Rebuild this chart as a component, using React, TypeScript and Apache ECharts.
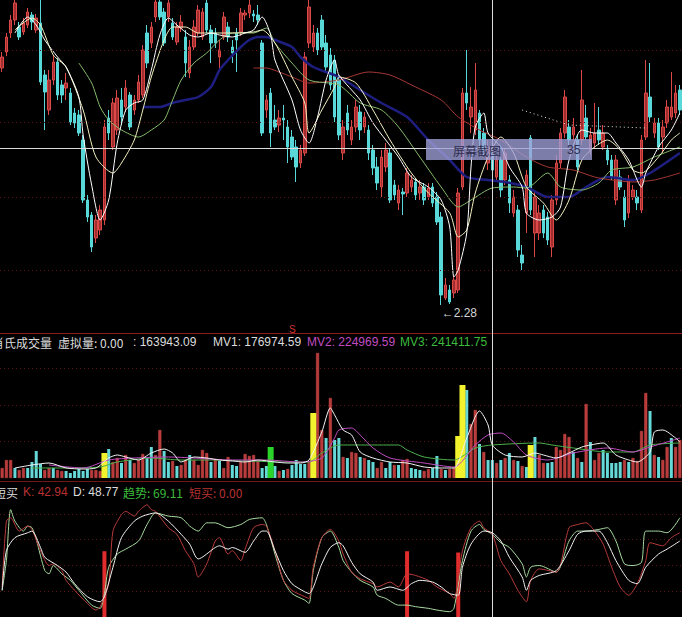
import React, { useEffect, useRef } from 'react';
import * as echarts from 'echarts';

// [open, close, lowest, highest]
const candles: number[][] = [
  [3.228,3.272,3.212,3.292],[3.292,3.352,3.276,3.368],[3.368,3.42,3.348,3.44],[3.42,3.488,3.4,3.5],[3.392,3.352,3.34,3.412],
  [3.372,3.408,3.36,3.428],[3.4,3.452,3.388,3.468],[3.44,3.412,3.38,3.452],[3.38,3.428,3.368,3.444],[3.408,3.172,3.16,3.5],
  [3.2,3.132,2.98,3.22],[3.06,3.18,3.04,3.22],[3.18,3.252,3.16,3.28],[3.252,3.12,3.1,3.268],[3.16,3.12,3.088,3.18],
  [3.148,3.168,3.1,3.208],[3.128,3.012,3.0,3.148],[3.048,3.008,2.988,3.068],[3.04,2.968,2.956,3.06],[2.94,2.7,2.688,2.96],
  [2.7,2.632,2.612,2.72],[2.64,2.512,2.492,2.652],[2.548,2.62,2.528,2.64],[2.58,2.66,2.56,2.68],[2.62,2.992,2.6,3.02],
  [3.028,2.968,2.94,3.06],[2.912,3.088,2.9,3.108],[2.98,3.108,2.96,3.14],[3.1,3.032,3.0,3.148],[3.072,3.148,3.052,3.18],
  [3.12,2.992,2.98,3.132],[3.06,3.1,3.04,3.12],[3.1,3.172,3.088,3.2],[3.12,3.3,3.108,3.32],[3.368,3.248,3.228,3.4],
  [3.328,3.392,3.308,3.412],[3.432,3.492,3.412,3.5],[3.492,3.432,3.42,3.5],[3.452,3.328,3.316,3.468],[3.432,3.488,3.412,3.5],
  [3.408,3.352,3.34,3.428],[3.332,3.392,3.32,3.412],[3.388,3.412,3.372,3.44],[3.352,3.248,3.192,3.38],[3.208,3.312,3.188,3.34],
  [3.312,3.392,3.3,3.42],[3.368,3.46,3.356,3.48],[3.352,3.452,3.34,3.468],[3.488,3.38,3.368,3.5],[3.38,3.328,3.248,3.4],
  [3.368,3.328,3.308,3.388],[3.272,3.3,3.212,3.34],[3.352,3.432,3.34,3.452],[3.392,3.352,3.332,3.412],[3.312,3.288,3.248,3.34],
  [3.368,3.34,3.212,3.388],[3.372,3.448,3.356,3.468],[3.44,3.448,3.42,3.46],[3.448,3.48,3.428,3.5],[3.444,3.436,3.412,3.46],
  [3.44,3.42,3.4,3.48],[3.328,2.968,2.956,3.34],[3.06,3.1,3.028,3.12],[3.128,2.968,2.912,3.148],[3.02,2.992,2.98,3.08],
  [3.0,3.028,2.972,3.06],[3.028,3.02,2.94,3.08],[2.992,2.912,2.848,3.02],[2.952,2.872,2.86,2.98],[2.912,2.832,2.772,2.94],
  [2.848,2.9,2.828,2.92],[2.888,3.272,2.876,3.292],[3.328,3.472,3.308,3.5],[3.312,3.368,3.292,3.4],[3.368,3.3,3.28,3.388],
  [3.42,3.312,3.3,3.44],[3.328,3.232,3.212,3.36],[3.28,3.16,3.14,3.308],[3.26,3.032,3.012,3.28],[3.18,2.96,2.94,3.2],
  [2.888,2.992,2.86,3.02],[3.048,2.98,2.96,3.08],[2.94,2.992,2.92,3.02],[2.992,3.072,2.972,3.1],[3.052,2.98,2.94,3.08],
  [2.992,3.032,2.968,3.052],[2.98,2.888,2.86,3.0],[2.9,2.828,2.8,2.92],[2.832,2.768,2.74,2.872],[2.752,2.872,2.712,2.9],
  [2.832,2.9,2.812,2.928],[2.888,2.7,2.688,2.908],[2.76,2.72,2.7,2.78],[2.688,2.74,2.66,2.76],[2.732,2.724,2.64,2.748],
  [2.728,2.808,2.712,2.828],[2.752,2.78,2.732,2.8],[2.772,2.72,2.7,2.788],[2.728,2.752,2.7,2.78],[2.752,2.7,2.68,2.768],
  [2.712,2.748,2.7,2.768],[2.752,2.688,2.672,2.768],[2.712,2.612,2.6,2.732],[2.632,2.32,2.28,2.652],[2.308,2.36,2.3,2.388],
  [2.34,2.292,2.284,2.36],[2.328,2.38,2.308,2.4],[2.34,2.728,2.328,2.748],[2.752,3.128,2.74,3.148],[3.128,3.088,3.06,3.3],
  [3.032,3.072,2.968,3.152],[2.98,3.14,2.96,3.248],[3.048,2.94,2.888,3.06],[2.968,2.9,2.88,2.988],[2.848,2.912,2.82,2.94],
  [2.888,2.82,2.78,2.912],[2.792,2.86,2.772,2.88],[2.86,2.74,2.712,2.872],[2.78,2.888,2.76,2.908],[2.78,2.688,2.648,2.8],
  [2.648,2.712,2.632,2.74],[2.66,2.5,2.472,2.68],[2.48,2.448,2.42,2.52],[2.648,2.8,2.568,2.82],[2.948,2.66,2.64,2.96],
  [2.568,2.712,2.472,2.74],[2.568,2.648,2.54,2.68],[2.66,2.568,2.548,2.68],[2.632,2.54,2.52,2.652],[2.512,2.7,2.472,2.72],
  [2.7,2.848,2.68,2.88],[2.848,2.968,2.828,2.988],[2.968,3.112,2.948,3.14],[2.992,2.94,2.92,3.02],[2.96,2.992,2.94,3.028],
  [2.94,2.832,2.82,2.96],[2.94,3.1,2.92,3.22],[3.028,2.952,2.94,3.08],[2.9,2.96,2.88,2.988],[2.928,2.968,2.908,3.088],
  [2.98,2.94,2.92,3.072],[2.912,2.968,2.9,3.0],[2.9,2.86,2.84,2.92],[2.86,2.792,2.78,2.88],[2.7,2.86,2.68,2.88],
  [2.792,2.752,2.74,2.82],[2.712,2.62,2.592,2.74],[2.648,2.78,2.628,2.8],[2.712,2.74,2.7,2.76],[2.712,2.688,2.66,2.74],
  [2.66,2.94,2.648,2.96],[2.952,3.128,2.94,3.26],[3.112,3.032,3.012,3.248],[2.968,3.008,2.948,3.028],[3.008,2.912,2.9,3.028],
  [2.952,2.992,2.888,3.02],[3.008,3.072,2.988,3.1],[3.032,3.072,3.02,3.212],[3.048,3.128,3.028,3.16],[3.14,3.06,3.04,3.16],
];

const categories = candles.map((_, i) => String(i + 1));

// moving-average lines: [bar index, price]
const ma5 = [[3,3.368],[6,3.432],[8,3.4],[10,3.34],[13,3.272],[15,3.232],[18,3.112],[19,2.96],[21,2.76],[23,2.62],[25,2.7],[27,2.928],[29,3.06],[31,3.088],[33,3.1],[35,3.22],[37,3.36],[39,3.428],[41,3.4],[44,3.36],[46,3.352],[49,3.368],[51,3.36],[54,3.352],[57,3.368],[59,3.38],[61,3.432],[63,3.36],[64,3.26],[68,3.1],[70,2.98],[72,2.928],[74,3.032],[76,3.18],[78,3.26],[79,3.2],[84,3.1],[87,3.008],[90,2.94],[93,2.872],[96,2.792],[100,2.752],[103,2.7],[105,2.592],[106,2.392],[107,2.42],[109,2.568],[110,2.832],[111,2.992],[113,3.048],[114,2.968],[117,2.912],[119,2.832],[122,2.752],[123,2.648],[126,2.62],[129,2.632],[131,2.672],[133,2.86],[136,2.98],[139,2.968],[142,2.968],[144,2.928],[147,2.86],[150,2.752],[151,2.808],[154,2.912],[157,2.98],[159,3.048]];
const ma10 = [[3,3.38],[7,3.428],[9,3.4],[12,3.28],[15,3.232],[19,3.06],[22,2.872],[26,2.808],[28,2.848],[31,2.94],[33,3.06],[35,3.192],[38,3.34],[40,3.392],[43,3.392],[46,3.368],[50,3.368],[54,3.368],[59,3.372],[61,3.38],[64,3.328],[68,3.192],[71,3.088],[72,2.968],[75,3.06],[78,3.152],[79,3.192],[83,3.168],[87,3.06],[91,2.94],[96,2.808],[100,2.728],[105,2.648],[107,2.552],[109,2.58],[111,2.728],[114,2.872],[117,2.952],[120,2.888],[123,2.752],[127,2.688],[130,2.62],[133,2.7],[136,2.86],[139,2.912],[142,2.94],[145,2.9],[148,2.82],[150,2.808],[154,2.872],[157,2.94],[159,2.968]];
const ma20 = [[18,3.248],[21,3.168],[23,3.072],[25,3.02],[28,2.98],[32,2.952],[35,2.98],[38,3.02],[40,3.1],[42,3.18],[45,3.248],[48,3.288],[51,3.34],[54,3.368],[59,3.368],[62,3.388],[64,3.328],[68,3.248],[72,3.18],[79,3.16],[84,3.088],[89,3.06],[93,2.992],[98,2.872],[103,2.752],[107,2.672],[110,2.7],[115,2.748],[120,2.752],[123,2.748],[128,2.808],[131,2.752],[136,2.74],[140,2.768],[143,2.82],[148,2.832],[153,2.872],[159,2.912]];
const ma30 = [[33,3.072],[37,3.072],[40,3.088],[43,3.1],[46,3.112],[49,3.152],[51,3.22],[53,3.26],[56,3.312],[58,3.34],[60,3.352],[62,3.352],[64,3.34],[68,3.312],[70,3.272],[73,3.232],[79,3.192],[84,3.14],[89,3.088],[95,3.032],[100,2.94],[105,2.86],[109,2.792],[114,2.78],[118,2.772],[123,2.752],[128,2.712],[133,2.712],[137,2.752],[142,2.792],[148,2.78],[152,2.808],[159,2.888]];
const ma60 = [[59,3.228],[62,3.228],[65,3.212],[68,3.192],[72,3.168],[79,3.18],[86,3.212],[91,3.2],[97,3.152],[103,3.1],[107,3.032],[112,2.98],[117,2.94],[123,2.872],[128,2.832],[134,2.82],[139,2.792],[143,2.78],[148,2.772],[153,2.78],[159,2.808]];
const dottedLine = [[122,3.06],[133,3.0],[151,2.988]];
const priceGridLevels = [3.304, 3.008, 2.712, 2.42];

const crossIndex = 115;
const crossPrice = 2.908;

const volumes = [
  68400,123000,123000,68400,54700,68400,68400,109400,184600,95700,
  54700,68400,68400,54700,47900,47900,34200,47900,61500,47900,
  61500,54700,54700,47900,170900,198200,109400,136700,102500,157200,
  123000,102500,123000,164100,136700,211900,157200,328100,184600,109400,
  116200,82000,88900,123000,157200,123000,88900,191400,170900,109400,
  123000,116200,68400,143600,88900,82000,109400,164100,150400,157200,
  116200,68400,82000,211900,82000,47900,54700,61500,88900,123000,
  95700,95700,109400,444300,854500,328100,273400,546900,259800,273400,
  143600,136700,177700,170900,143600,136700,123000,109400,68400,109400,
  68400,109400,88900,88900,123000,129900,68400,61500,54700,47900,
  61500,68400,150400,61500,54700,61500,68400,287100,635700,601600,
  369100,464800,232400,177700,123000,123000,102500,123000,136700,170900,
  123000,116200,82000,75200,225600,280300,157200,102500,102500,109400,
  211900,191400,300800,280300,177700,136700,109400,505900,246100,123000,
  170900,191400,170900,102500,102500,109400,123000,109400,136700,116200,
  321300,581100,458000,157200,143600,123000,211900,273400,211900,259800,
];
// r = up, c = down, y = yellow signal, g = green signal
const volumeKinds = (
  'rrrcrrcccc' + 'rrcrrccccc' + 'crrrycrrcr' + 'crrrccrrcc' + 'rcrrcrrrrc' +
  'rcrrccrrrr' + 'rccgcrcrcc' + 'ccryrrcrcc' + 'rcrrcrccrr' + 'ccrcrrcccr' +
  'rccrcrryyc' + 'rrcrccrcrc' + 'rcrcycrrcc' + 'rrrrcrcrcr' + 'rcccccrcrr' + 'rrcrcrrcrr'
).split('');

const mv1 = [[3,68400],[7,88900],[11,102500],[15,68400],[19,61500],[22,68400],[25,136700],[27,157200],[29,143600],[32,123000],[35,170900],[38,198200],[40,170900],[42,109400],[45,143600],[48,136700],[51,123000],[54,116200],[57,109400],[60,123000],[64,109400],[67,102500],[70,102500],[72,123000],[75,314500],[77,478500],[78,430700],[80,328100],[82,293900],[84,177700],[87,136700],[91,109400],[95,102500],[99,75200],[103,68400],[106,68400],[109,273400],[112,458000],[114,362300],[115,225600],[118,157200],[122,143600],[125,170900],[127,157200],[130,136700],[133,170900],[136,211900],[138,225600],[141,239300],[144,157200],[147,123000],[149,109400],[152,177700],[153,314500],[155,328100],[158,273400],[159,246100]];
const mv2 = [[11,88900],[19,68400],[25,123000],[31,136700],[39,143600],[45,136700],[54,123000],[62,123000],[70,109400],[75,136700],[78,273400],[79,328100],[82,341800],[84,293900],[87,205100],[91,136700],[99,102500],[106,75200],[111,225600],[114,293900],[117,307600],[120,246100],[123,157200],[128,123000],[134,170900],[142,205100],[148,177700],[152,211900],[156,246100],[159,273400]];
const mv3 = [[7,68400],[15,68400],[23,75200],[27,109400],[35,136700],[42,123000],[50,123000],[58,116200],[66,109400],[72,109400],[75,170900],[79,225600],[83,225600],[93,225600],[95,191400],[99,143600],[106,123000],[111,205100],[115,225600],[126,239300],[129,225600],[134,205100],[142,177700],[148,177700],[152,225600],[159,239300]];

const kLine = [[0,23.3],[1,74.3],[2,76.9],[4,66.6],[6,70.5],[7,67.9],[9,51.4],[11,39.9],[12,41.2],[14,36.0],[15,28.4],[17,20.7],[20,10.5],[22,5.4],[23,8.0],[25,25.8],[26,66.6],[28,79.4],[29,81.9],[31,78.2],[32,81.9],[34,87.0],[35,83.2],[36,81.9],[39,69.2],[41,64.1],[43,51.4],[45,41.2],[46,31.0],[48,41.2],[50,58.9],[51,61.5],[53,48.8],[54,51.4],[56,43.7],[57,52.6],[59,69.2],[61,71.7],[62,70.5],[64,51.4],[66,28.4],[68,20.7],[71,15.7],[72,14.4],[73,38.6],[75,61.5],[77,67.9],[79,58.9],[80,48.8],[82,34.8],[84,29.7],[87,25.8],[88,23.3],[91,27.1],[93,23.3],[95,33.5],[97,32.2],[100,28.4],[102,23.3],[105,18.2],[106,14.4],[108,51.4],[110,69.2],[112,74.3],[113,69.2],[115,64.1],[117,43.7],[119,33.5],[121,20.7],[123,11.8],[124,28.4],[126,37.3],[130,34.8],[133,69.2],[135,71.7],[137,73.0],[139,66.6],[141,56.5],[143,38.6],[145,23.3],[147,16.9],[149,25.8],[151,43.7],[152,57.6],[155,55.2],[157,61.5],[159,65.3]];
const dLine = [[0,20.7],[1,51.4],[3,61.5],[6,65.3],[7,66.6],[9,53.9],[10,46.3],[13,39.9],[15,34.8],[17,25.8],[20,15.7],[23,11.8],[24,15.7],[26,38.6],[28,61.5],[31,74.3],[33,78.2],[36,80.7],[39,74.3],[42,64.1],[44,56.5],[46,45.0],[50,53.9],[51,55.2],[53,52.6],[54,53.9],[57,50.1],[59,58.9],[61,66.6],[62,66.6],[64,51.4],[66,36.0],[68,25.8],[71,19.5],[72,18.2],[75,41.2],[77,53.9],[79,57.6],[80,55.2],[82,42.4],[84,33.5],[87,27.1],[88,20.7],[91,23.3],[94,20.7],[96,25.8],[98,28.4],[101,27.1],[103,23.3],[105,18.2],[107,16.9],[108,38.6],[110,56.5],[113,66.6],[115,65.3],[117,58.9],[119,46.3],[122,31.0],[123,20.7],[124,28.4],[126,32.2],[130,36.0],[133,51.4],[135,64.1],[137,66.6],[140,66.6],[142,57.6],[144,43.7],[147,28.4],[149,25.8],[151,38.6],[154,48.8],[156,52.6],[159,58.9]];
const trendLine = [[0,20.7],[1,43.7],[2,83.2],[3,74.3],[5,66.6],[6,70.5],[7,69.2],[8,60.2],[10,36.0],[11,33.5],[12,39.9],[14,33.5],[16,28.4],[18,20.7],[21,9.2],[23,6.7],[24,18.2],[25,38.6],[27,48.8],[29,52.6],[32,58.9],[34,71.7],[36,80.7],[39,78.2],[42,76.9],[44,70.5],[46,66.6],[48,73.0],[50,73.0],[53,69.2],[56,71.7],[58,75.6],[61,76.9],[62,71.7],[64,48.8],[66,28.4],[68,18.2],[71,13.1],[72,10.5],[73,36.0],[75,61.5],[77,66.6],[79,53.9],[80,43.7],[82,34.8],[84,28.4],[87,23.3],[88,16.9],[90,14.4],[93,9.2],[95,9.2],[97,8.0],[100,6.7],[102,5.4],[105,4.1],[106,6.7],[108,43.7],[110,66.6],[112,71.7],[113,67.9],[115,64.1],[117,57.6],[119,53.9],[122,41.2],[123,31.0],[124,38.6],[126,39.9],[130,34.8],[133,58.9],[135,66.6],[137,66.6],[140,67.9],[142,69.2],[144,58.9],[146,41.2],[148,39.9],[150,42.4],[151,66.6],[154,66.6],[156,65.3],[159,76.9]];
const buySignals = [[24,51],[95,51],[107,50]];

const FONT = '"Liberation Sans", Arial, "Noto Sans CJK SC", sans-serif';
const CJK = '"Noto Sans CJK SC", "Liberation Sans", sans-serif';

const hidden = { axisLine: { show: false }, axisTick: { show: false }, axisLabel: { show: false }, splitLine: { show: false } };
const dotted = { color: '#561616', type: [1, 3] as any, width: 1 };

function line(data: number[][], color: string, width = 1, dash: any = 'solid', smooth: any = 0.25) {
  return {
    type: 'line', data, symbol: 'none', showSymbol: false, smooth, silent: true,
    lineStyle: { color, width, type: dash },
  };
}

function text(t: string, x: number, y: number, fill: string, size = 12, family = FONT, z = 50) {
  return { type: 'text', x, y, z, silent: true, style: { text: t, fill, fontSize: size, fontFamily: family, verticalAlign: 'middle' } };
}

export default function App() {
  const ref = useRef<HTMLDivElement>(null);
  useEffect(() => {
    const chart = echarts.init(ref.current!, null, { renderer: 'svg' });
    const normalVol = volumes.map((v, i) => {
      const k = volumeKinds[i];
      if (k === 'r') return { value: v, itemStyle: { color: '#b83a3a', borderColor: '#d24c4c', borderWidth: 0.5 } };
      if (k === 'c') return { value: v, itemStyle: { color: '#66d8d8' } };
      return '-';
    });
    const specialVol = volumes.map((v, i) => {
      const k = volumeKinds[i];
      if (k === 'y') return { value: v, itemStyle: { color: '#f2f22e' } };
      if (k === 'g') return { value: v, itemStyle: { color: '#2bd42b' } };
      return '-';
    });
    const buyData: any[] = categories.map(() => '-');
    buySignals.forEach(([i, v]) => { buyData[i] = v; });

    const option: any = {
      animation: false,
      backgroundColor: '#000000',
      grid: [
        { left: 0, right: 0, top: 0, height: 333 },
        { left: 0, right: 0, top: 350, height: 128 },
        { left: 0, right: 0, top: 488, height: 131 },
      ],
      xAxis: [
        { type: 'category', gridIndex: 0, data: categories, ...hidden, axisLine: { show: true, onZero: false, lineStyle: { color: '#8e1c1c', width: 1 } } },
        { type: 'category', gridIndex: 1, data: categories, ...hidden, offset: 3, axisLine: { show: true, onZero: false, lineStyle: { color: '#6e1818', width: 1 } } },
        { type: 'category', gridIndex: 2, data: categories, ...hidden },
        { type: 'category', gridIndex: 1, data: categories, ...hidden },
      ],
      yAxis: [
        { type: 'value', gridIndex: 0, min: 2.168, max: 3.5, scale: true, ...hidden },
        { type: 'value', gridIndex: 1, min: 0, max: 875000, interval: 250000, ...hidden,
          splitLine: { show: true, showMinLine: false, showMaxLine: false, lineStyle: dotted } },
        { type: 'value', gridIndex: 2, min: 0, max: 100, interval: 20, ...hidden,
          splitLine: { show: true, showMinLine: false, showMaxLine: false, lineStyle: dotted } },
      ],
      series: [
        {
          type: 'candlestick', xAxisIndex: 0, yAxisIndex: 0, data: candles, barWidth: 3, silent: true,
          itemStyle: { color: '#a02e2e', color0: '#58d8d8', borderColor: '#dc4848', borderColor0: '#58d8d8', borderWidth: 1 },
          markLine: {
            silent: true, symbol: ['none', 'none'], label: { show: false },
            lineStyle: dotted,
            data: priceGridLevels.map((v) => ({ yAxis: v })),
          },
          markPoint: {
            symbol: 'circle', symbolSize: 1, silent: true,
            itemStyle: { color: 'rgba(0,0,0,0)' },
            label: {
              show: true, position: 'right', distance: 0, offset: [0, 8], color: '#d4d4d4', fontSize: 12, fontFamily: FONT,
              formatter: (p: any) => '\u2190' + Number(p.value).toFixed(2),
            },
            data: [{ type: 'min', valueDim: 'lowest' }],
          },
        },
        { ...line(ma30, '#1e1e80', 2.5), xAxisIndex: 0, yAxisIndex: 0 },
        { ...line(ma60, '#a83834', 1), xAxisIndex: 0, yAxisIndex: 0 },
        { ...line(ma20, '#86bc6c', 1), xAxisIndex: 0, yAxisIndex: 0 },
        { ...line(ma10, '#f4f2c0', 1), xAxisIndex: 0, yAxisIndex: 0 },
        { ...line(ma5, '#ffffff', 1), xAxisIndex: 0, yAxisIndex: 0 },
        { ...line(dottedLine, '#e4e4e4', 1, [1, 3], false), xAxisIndex: 0, yAxisIndex: 0 },

        { type: 'bar', xAxisIndex: 1, yAxisIndex: 1, data: normalVol, barWidth: 3, silent: true },
        { type: 'bar', xAxisIndex: 3, yAxisIndex: 1, data: specialVol, barWidth: 6, silent: true },
        { ...line(mv3, '#4cb04c', 1), xAxisIndex: 1, yAxisIndex: 1 },
        { ...line(mv2, '#c04cc0', 1), xAxisIndex: 1, yAxisIndex: 1 },
        { ...line(mv1, '#f2f2f2', 1), xAxisIndex: 1, yAxisIndex: 1 },

        { type: 'bar', xAxisIndex: 2, yAxisIndex: 2, data: buyData, barWidth: 4, silent: true, itemStyle: { color: '#e02c2c' } },
        { ...line(trendLine, '#a8dca0', 1), xAxisIndex: 2, yAxisIndex: 2 },
        { ...line(kLine, '#b83a3a', 1), xAxisIndex: 2, yAxisIndex: 2 },
        { ...line(dLine, '#f2f2f2', 1), xAxisIndex: 2, yAxisIndex: 2 },
      ],
    };
    chart.setOption(option);

    const cx = Math.round(chart.convertToPixel({ xAxisIndex: 0 }, crossIndex) as number) + 0.5;
    const cy = Math.round(chart.convertToPixel({ yAxisIndex: 0 }, crossPrice) as number) + 0.5;

    chart.setOption({
      graphic: [
        { type: 'line', z: 40, silent: true, shape: { x1: 0, y1: cy, x2: 682, y2: cy }, style: { stroke: '#dcdcdc', lineWidth: 1 } },
        { type: 'line', z: 40, silent: true, shape: { x1: cx, y1: 0, x2: cx, y2: 617 }, style: { stroke: '#dcdcdc', lineWidth: 1 } },
        { type: 'rect', z: 60, silent: true, shape: { x: 426, y: 139, width: 166, height: 21 }, style: { fill: 'rgba(160,160,216,0.78)' } },
        text('屏幕截图', 453, 150, '#2e2e50', 12, CJK, 70),
        text('35', 567, 150, '#2e2e50', 12, FONT, 70),
        text('S', 289, 329, '#d23030', 10),
        text('肖氏成交量', -8, 342, '#dcdcdc', 12, CJK),
        text('虚拟量: 0.00', 58, 342, '#dcdcdc', 12, CJK),
        text(': 163943.09', 133, 342, '#dcdcdc', 12),
        text('MV1: 176974.59', 213, 342, '#dcdcdc', 12),
        text('MV2: 224969.59', 307, 342, '#c04cc0', 12),
        text('MV3: 241411.75', 400, 342, '#3cbc3c', 12),
        text('短买', -6, 492, '#dcdcdc', 12, CJK),
        text('K: 42.94', 23, 492, '#b83232', 12),
        text('D: 48.77', 73, 492, '#dcdcdc', 12),
        text('趋势: 69.11', 123, 492, '#3cbc3c', 12, CJK),
        text('短买: 0.00', 189, 492, '#b83232', 12, CJK),
      ],
    });
    return () => chart.dispose();
  }, []);
  return <div ref={ref} style={{ position: 'fixed', left: 0, top: 0, width: 682, height: 617, background: '#000' }} />;
}
